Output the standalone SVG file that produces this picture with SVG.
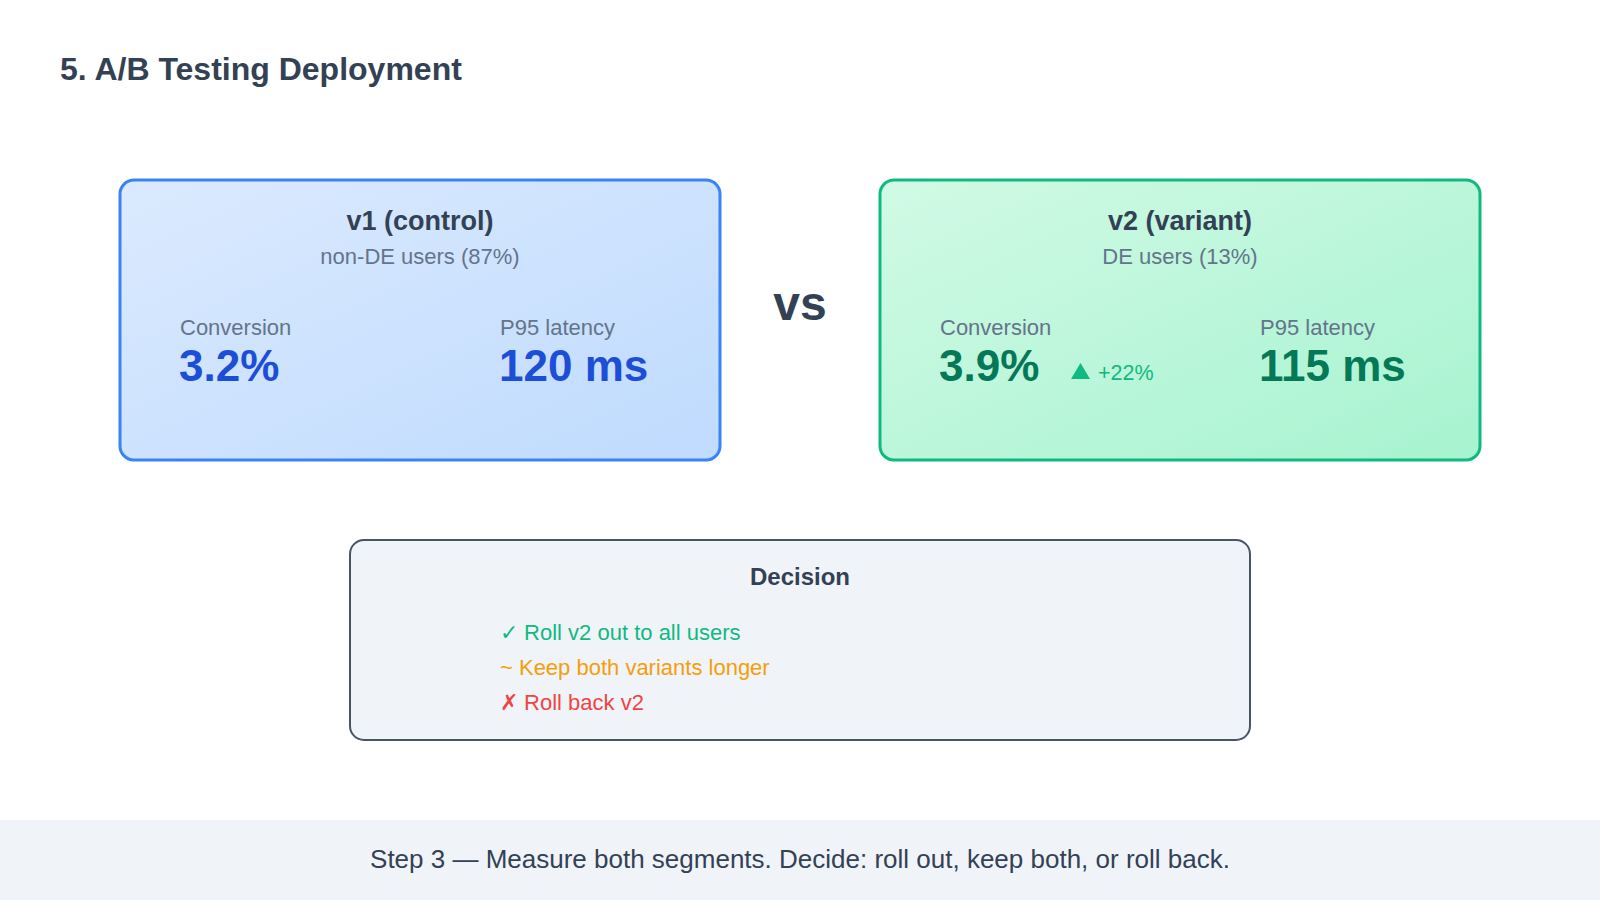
<svg xmlns="http://www.w3.org/2000/svg" width="1600" height="900" viewBox="0 0 1600 900">
<defs>
<linearGradient id="gBlue" x1="0" y1="0" x2="1" y2="1"><stop offset="0" stop-color="#dbeafe"/><stop offset="1" stop-color="#bfdbfe"/></linearGradient>
<linearGradient id="gGreen" x1="0" y1="0" x2="1" y2="1"><stop offset="0" stop-color="#d1fae5"/><stop offset="1" stop-color="#a7f3d0"/></linearGradient>
<style>
text{font-family:"Liberation Sans",Arial,sans-serif}
.title{font-size:32px;font-weight:bold;fill:#334155}
.h{font-size:27px;font-weight:bold;fill:#334155;text-anchor:middle}
.sub{font-size:22px;fill:#64748b;text-anchor:middle}
.lbl{font-size:22px;fill:#64748b}
.vb{font-size:44px;font-weight:bold;fill:#1d4ed8}
.vg{font-size:44px;font-weight:bold;fill:#047857}
.item{font-size:22px}
</style>
</defs>
<rect width="1600" height="900" fill="#ffffff"/>
<text class="title" x="60" y="80">5. A/B Testing Deployment</text>
<g id="v1">
<rect x="120" y="180" width="600" height="280" rx="14" fill="url(#gBlue)" stroke="#3b82f6" stroke-width="3"/>
<text class="h" x="420" y="230">v1 (control)</text>
<text class="sub" x="420" y="264">non-DE users (87%)</text>
<text class="lbl" x="180" y="335">Conversion</text>
<text class="vb" x="179" y="381">3.2%</text>
<text class="lbl" x="500" y="335">P95 latency</text>
<text class="vb" x="499" y="381">120 ms</text>
</g>
<g id="vs">
<text x="800" y="320" font-size="48" font-weight="bold" fill="#334155" text-anchor="middle">vs</text>
</g>
<g id="v2">
<rect x="880" y="180" width="600" height="280" rx="14" fill="url(#gGreen)" stroke="#10b981" stroke-width="3"/>
<text class="h" x="1180" y="230">v2 (variant)</text>
<text class="sub" x="1180" y="264">DE users (13%)</text>
<text class="lbl" x="940" y="335">Conversion</text>
<text class="vg" x="939" y="381">3.9%</text>
<polygon points="1071,379 1090,379 1080.5,363" fill="#10b981"/>
<text x="1098" y="380" font-size="21.5" fill="#10b981">+22%</text>
<text class="lbl" x="1260" y="335">P95 latency</text>
<text class="vg" x="1259" y="381">115 ms</text>
</g>
<g id="decision">
<rect x="350" y="540" width="900" height="200" rx="14" fill="#f0f4f9" stroke="#475569" stroke-width="2"/>
<text class="h" x="800" y="585" style="font-size:24px">Decision</text>
<text class="item" x="500" y="640" fill="#10b981">✓ Roll v2 out to all users</text>
<text class="item" x="500" y="675" fill="#f59e0b">~ Keep both variants longer</text>
<text class="item" x="500" y="710" fill="#ef4444">✗ Roll back v2</text>
</g>
<g id="connectors"></g>
<g id="footer">
<rect x="0" y="820" width="1600" height="80" fill="#f0f4f9"/>
<text x="800" y="868" font-size="26" fill="#334155" text-anchor="middle">Step 3 — Measure both segments. Decide: roll out, keep both, or roll back.</text>
</g>
</svg>
